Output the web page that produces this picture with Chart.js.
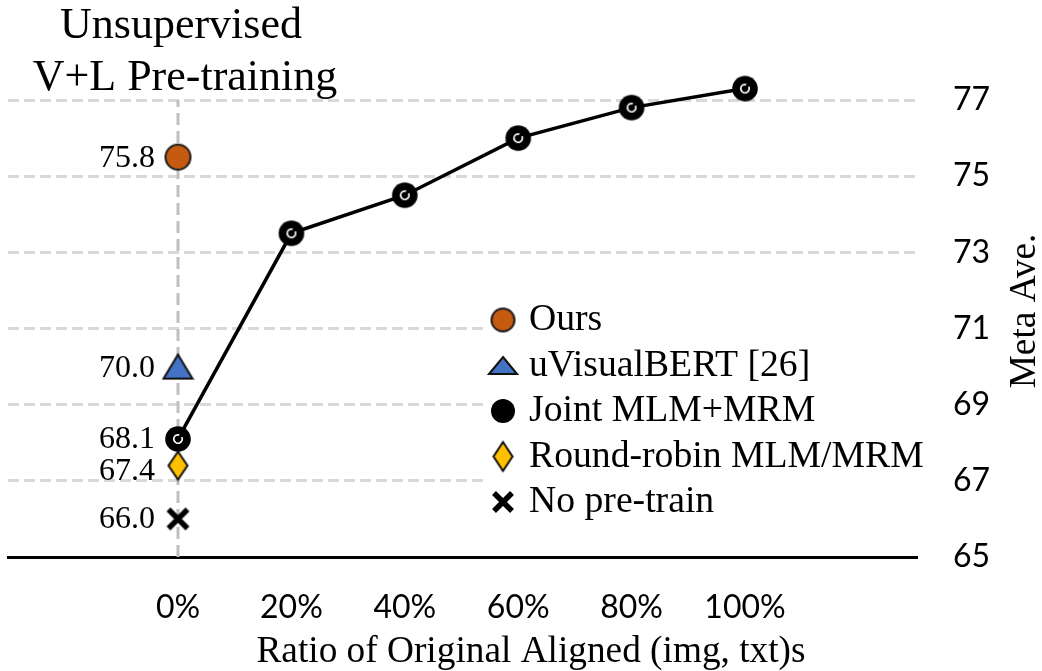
<!DOCTYPE html>
<html>
<head>
<meta charset="utf-8">
<title>Meta Ave. vs ratio of aligned pairs</title>
<script src="https://cdn.jsdelivr.net/npm/chart.js@4.4.1/dist/chart.umd.min.js"></script>
<style>
    html, body { margin: 0; padding: 0; background: #ffffff; }
    #wrap { width: 1042px; height: 671px; }
</style>
</head>
<body>
<div id="wrap"><canvas id="chart" width="1042" height="671"></canvas></div>
<script>
// Ratio of original aligned pairs (x) and the Joint MLM+MRM curve
const ratios = [0, 20, 40, 60, 80, 100];
const jointScores = [68.1, 73.5, 74.5, 76.0, 76.8, 77.3];

// Single results at 0%, in legend order
const methodNames = ["Ours", "uVisualBERT [26]", "Joint MLM+MRM", "Round-robin MLM/MRM", "No pre-train"];
const zeroScores = [75.5, 70.0, 68.1, 67.4, 66.0];
const zeroLabels = ["75.8", "70.0", "68.1", "67.4", "66.0"];

const yTicks = [65, 67, 69, 71, 73, 75, 77];

const SERIF = "'Liberation Serif', 'Times New Roman', serif";
const SANS = "Lato, 'Open Sans', sans-serif";

/**
 * Builds a small canvas used as a point style.
 */
function marker(w, h, paint)
{
    const c = document.createElement("canvas");
    c.width = w;
    c.height = h;
    paint(c.getContext("2d"), w, h);
    return c;
}

function circle(fill, stroke, r, ring)
{
    const size = Math.ceil(r * 2 + 4);
    return marker(size, size, (g, w, h) => {
        g.beginPath();
        g.arc(w / 2, h / 2, r, 0, Math.PI * 2);
        g.fillStyle = fill;
        g.fill();
        if (stroke) {
            g.lineWidth = 2;
            g.strokeStyle = stroke;
            g.stroke();
        }
        if (ring) {
            g.beginPath();
            g.arc(w / 2, h / 2, 4.2, -0.15 * Math.PI, 1.6 * Math.PI);
            g.lineWidth = 1.8;
            g.strokeStyle = "#ffffff";
            g.stroke();
        }
    });
}

function triangle(tw, th)
{
    return marker(tw + 4, th + 4, (g, w, h) => {
        g.beginPath();
        g.moveTo(w / 2, 2);
        g.lineTo(w - 2, h - 2);
        g.lineTo(2, h - 2);
        g.closePath();
        g.fillStyle = "#4472c4";
        g.fill();
        g.lineWidth = 2;
        g.strokeStyle = "#111111";
        g.stroke();
    });
}

function diamond(dw, dh)
{
    return marker(dw + 4, dh + 4, (g, w, h) => {
        g.beginPath();
        g.moveTo(w / 2, 2);
        g.lineTo(w - 2, h / 2);
        g.lineTo(w / 2, h - 2);
        g.lineTo(2, h / 2);
        g.closePath();
        g.fillStyle = "#ffc000";
        g.fill();
        g.lineWidth = 2;
        g.strokeStyle = "#111111";
        g.stroke();
    });
}

function cross(s)
{
    return marker(s + 6, s + 6, (g, w, h) => {
        g.beginPath();
        g.moveTo(3, 3);
        g.lineTo(w - 3, h - 3);
        g.moveTo(w - 3, 3);
        g.lineTo(3, h - 3);
        g.lineWidth = 5.5;
        g.strokeStyle = "#000000";
        g.stroke();
    });
}

const styles = {
    ours: circle("#c55a11", "#1c1c1c", 12.5, false),
    uvb: triangle(29, 24),
    joint: circle("#000000", null, 12.8, true),
    rr: diamond(19, 28),
    none: cross(19)
};

const legendStyles = [
    circle("#c55a11", "#1c1c1c", 11.5, false),
    triangle(28, 17),
    circle("#000000", null, 12, false),
    diamond(19, 29),
    cross(18)
];

// Titles, value labels and legend are painted on top of the chart
const annotations = {
    id: "annotations",
    afterDraw(chart)
    {
        const ctx = chart.ctx;
        const xs = chart.scales.x;
        const ys = chart.scales.y;

        ctx.save();
        ctx.fillStyle = "#000000";

        // Panel title
        ctx.font = "44px " + SERIF;
        ctx.textAlign = "center";
        ctx.textBaseline = "alphabetic";
        ctx.fillText("Unsupervised", 181, 38);
        ctx.fillText("V+L Pre-training", 185, 90);

        // Axis titles
        ctx.font = "37.3px " + SERIF;
        ctx.fillText("Ratio of Original Aligned (img, txt)s", 531, 662);
        ctx.save();
        ctx.translate(1035, 311);
        ctx.rotate(-Math.PI / 2);
        ctx.fillText("Meta Ave.", 0, 0);
        ctx.restore();

        // Value labels left of the 0% markers
        const nudge = [1, 2, 1, 6, 1];
        ctx.font = "32px " + SERIF;
        ctx.textAlign = "right";
        ctx.textBaseline = "middle";
        const lx = xs.getPixelForValue(ratios[0]) - 23;
        zeroScores.forEach((v, i) => {
            ctx.fillText(zeroLabels[i], lx, ys.getPixelForValue(v) + nudge[i]);
        });

        // Legend with white background
        ctx.fillStyle = "#ffffff";
        ctx.fillRect(487, 296, 432, 228);
        ctx.fillStyle = "#000000";
        ctx.font = "37.7px " + SERIF;
        ctx.textAlign = "left";
        ctx.textBaseline = "alphabetic";
        methodNames.forEach((name, i) => {
            const cy = 320 + i * 45.5;
            const img = legendStyles[i];
            ctx.drawImage(img, 503 - img.width / 2, cy - img.height / 2);
            ctx.fillText(name, 529, cy + 10);
        });

        ctx.restore();
    }
};

function draw()
{
    const chart = new Chart(document.getElementById("chart"), {
        type: "scatter",
        data: {
            datasets: [
                {
                    label: methodNames[2],
                    data: ratios.map((r, i) => ({x: r, y: jointScores[i]})),
                    showLine: true,
                    borderColor: "#000000",
                    borderWidth: 3.5,
                    pointStyle: styles.joint,
                    pointRadius: 12
                },
                {
                    label: methodNames[0],
                    data: [{x: ratios[0], y: zeroScores[0]}],
                    pointStyle: styles.ours
                },
                {
                    label: methodNames[1],
                    data: [{x: ratios[0], y: zeroScores[1]}],
                    pointStyle: styles.uvb
                },
                {
                    label: methodNames[3],
                    data: [{x: ratios[0], y: zeroScores[3]}],
                    pointStyle: styles.rr
                },
                {
                    label: methodNames[4],
                    data: [{x: ratios[0], y: zeroScores[4]}],
                    pointStyle: styles.none
                },
                {
                    // dashed guide at 0%
                    label: "guide",
                    data: [{x: ratios[0], y: yTicks[0]}, {x: ratios[0], y: yTicks[yTicks.length - 1]}],
                    showLine: true,
                    borderColor: "#bfbfbf",
                    borderWidth: 3,
                    borderDash: [12, 6],
                    pointRadius: 0
                }
            ]
        },
        options: {
            responsive: false,
            animation: false,
            devicePixelRatio: 1,
            layout: {autoPadding: false, padding: {left: 8, top: 40, right: 0, bottom: 0}},
            plugins: {
                legend: {display: false},
                tooltip: {enabled: false}
            },
            scales: {
                x: {
                    type: "linear",
                    position: "bottom",
                    min: -30,
                    max: 130.3,
                    afterBuildTicks: (s) => { s.ticks = ratios.map((v) => ({value: v})); },
                    afterFit: (s) => {
                        s.height = 114;
                        s.paddingLeft = 0;
                        s.paddingRight = 0;
                    },
                    grid: {display: false},
                    border: {display: true, color: "#000000", width: 3},
                    ticks: {
                        padding: 23,
                        color: "#000000",
                        maxRotation: 0,
                        autoSkip: false,
                        font: {family: SANS, size: 32},
                        callback: (v) => v + "%"
                    }
                },
                y: {
                    type: "linear",
                    position: "right",
                    min: 65,
                    max: 78.575,
                    afterBuildTicks: (s) => { s.ticks = yTicks.map((v) => ({value: v})); },
                    afterFit: (s) => {
                        s.width = 125;
                        s.paddingTop = 0;
                        s.paddingBottom = 0;
                    },
                    grid: {
                        color: (c) => (c.tick && c.tick.value === yTicks[0]) ? "rgba(0,0,0,0)" : "#d9d9d9",
                        lineWidth: 3,
                        drawTicks: false
                    },
                    border: {display: false, dash: [11, 5]},
                    ticks: {
                        padding: 36,
                        color: "#000000",
                        font: {family: SANS, size: 32}
                    }
                }
            }
        },
        plugins: [annotations]
    });

    // Pin the plot area to the reference frame if layout drifted
    const opts = chart.config.options;
    const want = {left: 8, top: 40, right: 917, bottom: 557};
    for (let k = 0; k < 3; k++) {
        const a = chart.chartArea;
        const p = opts.layout.padding;
        const dl = want.left - a.left;
        const dt = want.top - a.top;
        const dr = a.right - want.right;
        const db = a.bottom - want.bottom;
        if (Math.abs(dl) + Math.abs(dt) + Math.abs(dr) + Math.abs(db) < 0.5) {
            break;
        }
        opts.layout.padding = {
            left: Math.max(0, p.left + dl),
            top: Math.max(0, p.top + dt),
            right: Math.max(0, p.right + dr),
            bottom: Math.max(0, p.bottom + db)
        };
        chart.update();
    }

    // Then map 0% -> 178px, 100% -> 745px, 65 -> 557px, 77 -> 100px
    const a = chart.chartArea;
    const kx = (745 - 178) / (ratios[ratios.length - 1] - ratios[0]);
    const ky = (557 - 100) / (yTicks[yTicks.length - 1] - yTicks[0]);
    opts.scales.x.min = ratios[0] - (178 - a.left) / kx;
    opts.scales.x.max = ratios[ratios.length - 1] + (a.right - 745) / kx;
    opts.scales.y.min = yTicks[0] - (a.bottom - 557) / ky;
    opts.scales.y.max = yTicks[yTicks.length - 1] + (100 - a.top) / ky;
    chart.update();
}

Promise.all([
    document.fonts.load("32px Lato"),
    document.fonts.load("37px 'Liberation Serif'")
]).then(draw, draw);
</script>
</body>
</html>
